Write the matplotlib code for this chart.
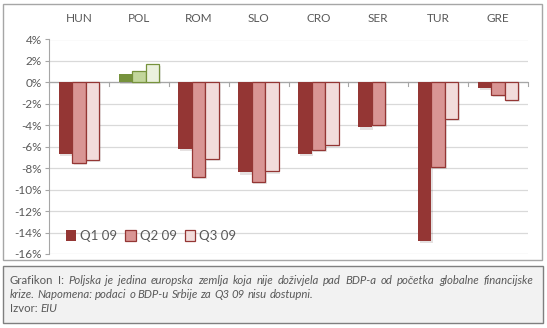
import matplotlib.pyplot as plt
import matplotlib.patheffects as pe
from matplotlib.patches import Rectangle
from matplotlib.transforms import blended_transform_factory
import numpy as np

plt.rcParams['font.family'] = ['Lato', 'DejaVu Sans']

countries = ['HUN', 'POL', 'ROM', 'SLO', 'CRO', 'SER', 'TUR', 'GRE']
q1_09 = [-6.7, 0.8, -6.2, -8.4, -6.7, -4.2, -14.8, -0.5]
q2_09 = [-7.5, 1.1, -8.8, -9.3, -6.3, -4.0, -7.9, -1.2]
q3_09 = [-7.2, 1.7, -7.1, -8.3, -5.8, np.nan, -3.4, -1.6]
series_names = ['Q1 09', 'Q2 09', 'Q3 09']

red_fill = ['#943634', '#d99594', '#f2dcdb']
red_edge = '#943634'
green_fill = ['#76923c', '#c2d69b', '#ebf1de']
green_edge = '#76923c'

fig = plt.figure(figsize=(5.47, 3.28), dpi=100)

# outer frames: chart box and caption box
fig.patches.append(Rectangle((3 / 547, 1 - 260 / 328), 539 / 547, 256 / 328,
                             transform=fig.transFigure, fill=False,
                             edgecolor='#a6a6a6', linewidth=1.0))
fig.patches.append(Rectangle((3 / 547, 1 - 323 / 328), 540 / 547, 57 / 328,
                             transform=fig.transFigure, facecolor='#f2f2f2',
                             edgecolor='#7f7f7f', linewidth=1.0))

ax = fig.add_axes([49 / 547, 1 - 254 / 328, 479 / 547, 214.5 / 328])

x = np.arange(len(countries))
w = 0.225
shadow = [pe.SimplePatchShadow(offset=(1.2, -1.5), alpha=0.12), pe.Normal()]

for k, vals in enumerate([q1_09, q2_09, q3_09]):
    fills = [green_fill[k] if c == 'POL' else red_fill[k] for c in countries]
    edges = [green_edge if c == 'POL' else red_edge for c in countries]
    bars = ax.bar(x + (k - 1) * w, vals, width=w, color=fills,
                  edgecolor=edges, linewidth=0.9 if k else 0,
                  label=series_names[k], zorder=3)
    for b in bars:
        b.set_path_effects(shadow)

ax.set_xlim(-0.5, len(countries) - 0.5)
ax.set_ylim(-16, 4)
ax.set_yticks(np.arange(-16, 5, 2))
ax.set_yticklabels([f'{v}%' for v in range(-16, 5, 2)])
ax.yaxis.grid(True, color='#d9d9d9', linewidth=0.9, zorder=0)
ax.tick_params(axis='y', colors='#a6a6a6', labelcolor='#595959',
               labelsize=8.5, length=3, width=0.8, direction='out', pad=2)

for s in ['top', 'right', 'bottom']:
    ax.spines[s].set_visible(False)
ax.spines['left'].set_color('#a6a6a6')

# x axis drawn at zero with ticks between categories
ax.axhline(0, color='#a6a6a6', linewidth=0.9, zorder=2)
ax.set_xticks([])
for b in np.arange(-0.5, len(countries), 1.0):
    ax.plot([b, b], [0, -0.35], color='#a6a6a6', linewidth=0.8,
            clip_on=False, zorder=2)

trans = blended_transform_factory(ax.transData, fig.transFigure)
for i, c in enumerate(countries):
    ax.text(i, 1 - 19 / 328, c, transform=trans, ha='center', va='center',
            fontsize=8.5, color='#595959')

leg = ax.legend(loc='lower left', bbox_to_anchor=(0.01, 0.0), ncol=3,
                frameon=False, fontsize=9.5, handlelength=0.8,
                handleheight=0.8, handletextpad=0.3, columnspacing=0.6,
                labelcolor='#595959')
for h in leg.legend_handles:
    h.set_path_effects([])

# caption: words placed one by one so a line can be justified
renderer = fig.canvas.get_renderer()
CAP_SIZE = 8.2
WORD_GAP = 2.6  # px between words on ragged lines


def caption_line(y_px, runs, x_px=10, right_px=None):
    words = []
    for txt, style in runs:
        words += [(w_, style) for w_ in txt.split()]
    items = []
    for w_, style in words:
        t = fig.text(0, 1 - y_px / 328, w_, fontsize=CAP_SIZE,
                     color='#595959', va='center', style=style)
        items.append((t, t.get_window_extent(renderer).width))
    gap = WORD_GAP
    if right_px is not None:
        gap = (right_px - x_px - sum(wd for _, wd in items)) / (len(items) - 1)
    xp = x_px
    for t, wd in items:
        t.set_x(xp / 547)
        xp += wd + gap


caption_line(281, [('Grafikon I:', 'normal'),
                   ('Poljska je jedina europska zemlja koja nije doživjela pad '
                    'BDP-a od početka globalne financijske', 'italic')],
             right_px=533)
caption_line(295, [('krize. Napomena: podaci o BDP-u Srbije za Q3 09 nisu '
                    'dostupni.', 'italic')])
caption_line(308, [('Izvor:', 'normal'), ('EIU', 'italic')])

fig.savefig('out.png', dpi=100)
